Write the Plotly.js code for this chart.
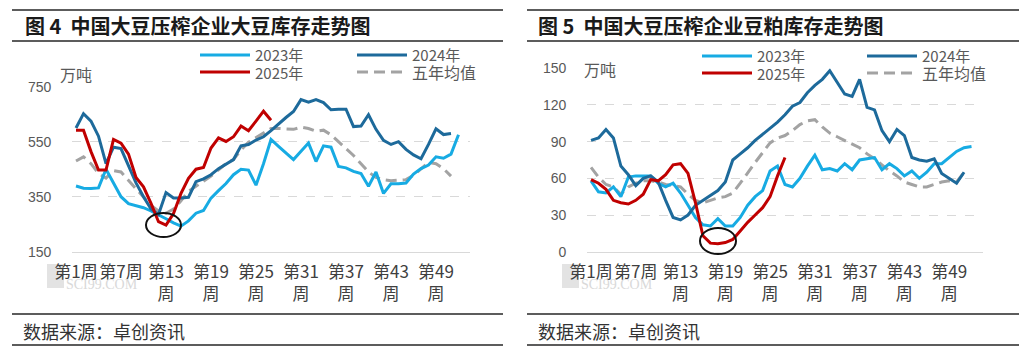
<!DOCTYPE html>
<html><head><meta charset="utf-8">
<script src="https://cdn.plot.ly/plotly-3.0.1.min.js"></script>
<style>html,body{margin:0;padding:0;background:#fff;}#chart{width:1024px;height:354px;}</style>
</head><body><div id="chart"></div>
<script>
// ---------- data ----------
const weeks = [1,2,3,4,5,6,7,8,9,10,11,12,13,14,15,16,17,18,19,20,21,22,23,24,25,26,27,28,29,30,31,32,33,34,35,36,37,38,39,40,41,42,43,44,45,46,47,48,49,50,51,52,53];
const tickWeeks = [1,7,13,19,25,31,37,43,49];
const tickLabels = ['第1周','第7周','第13<br>周','第19<br>周','第25<br>周','第31<br>周','第37<br>周','第43<br>周','第49<br>周'];
const seriesNames = ['2023年','2024年','2025年','五年均值'];

// 图4 大豆库存 (万吨)
const soy2023 = [389,381,380,382,450,400,350,325,318,310,298,285,270,255,243,262,290,300,345,372,398,430,450,447,392,470,558,533,508,485,515,545,478,535,530,460,455,442,434,388,440,362,397,397,400,432,452,465,495,490,505,575];
const soy2024 = [600,652,625,570,470,530,525,460,400,350,305,285,365,345,345,348,405,415,430,452,470,485,535,540,556,568,590,615,638,660,703,694,703,692,666,668,668,605,607,648,595,555,540,550,522,502,488,540,597,576,580];
const soy2025 = [592,592,514,447,447,558,545,505,420,386,326,259,247,289,362,417,450,456,527,564,551,568,607,590,625,661,628];
const soy5yr  = [480,495,470,435,418,445,440,410,380,350,318,298,290,305,335,370,388,405,425,448,470,485,520,548,565,580,598,598,596,595,603,598,588,592,575,550,528,500,470,440,420,412,408,410,412,428,450,475,470,452,425];
const soyTicks = [150,350,550,750];

// 图5 豆粕库存 (万吨)
const meal2023 = [58,49,48,53,45,61,62,62,62,56,53,56,48,38,28,22,21,27,21,21,28,38,45,50,66,70,55,53,60,70,79,67,68,66,72,67,75,76,77,67,72,68,62,66,60,65,72,72,77,82,85,86];
const meal2024 = [91,93,100,93,70,63,54,60,62,57,42,28,26,30,38,42,46,50,57,75,80,85,91,96,101,106,112,119,122,130,136,141,148,138,129,127,141,118,116,99,90,100,95,77,75,74,76,64,60,56,65];
const meal2025 = [59,56,51,42,40,39,42,47,59,58,63,71,72,64,40,13,7,6.5,7.5,10,17,24,30,36,45,62,77];
const meal5yr  = [69,61,55,53,47,53,56,58,58,57,55,54,53,47,42,40,42,44,45,48,56,65,73,81,89,93,95,99,104,107,108,102,97,94,91,88,85,80,76,71,66,62,57,55,53,53,55,57,58,57,65];
const mealTicks = [0,30,60,90,120,150];

// ---------- styles ----------
const W = 1024, H = 354;
const px = v => v / W, py = v => 1 - v / H;
const colors = ['#17ABE3', '#1D6A9B', '#C00000', '#A3A3A3'];
const dashes = ['solid', 'solid', 'solid', '11px,6px'];
const CJK = '"Noto Sans CJK SC", "Liberation Sans", sans-serif';
const NUM = '"Liberation Sans", Arial, sans-serif';

function mk(vals, i, xa, ya) {
  return {
    x: weeks.slice(0, vals.length), y: vals, name: seriesNames[i],
    type: 'scatter', mode: 'lines', xaxis: xa, yaxis: ya, showlegend: false,
    line: {color: colors[i], width: 3, dash: dashes[i]}
  };
}
const data = [
  mk(soy5yr, 3, 'x', 'y'), mk(soy2023, 0, 'x', 'y'), mk(soy2024, 1, 'x', 'y'), mk(soy2025, 2, 'x', 'y'),
  mk(meal5yr, 3, 'x2', 'y2'), mk(meal2023, 0, 'x2', 'y2'), mk(meal2024, 1, 'x2', 'y2'), mk(meal2025, 2, 'x2', 'y2')
];

function xAxis(d0, d1, anchor) {
  return {domain: [px(d0), px(d1)], range: [0.5, 53.5], anchor: anchor,
    tickmode: 'array', tickvals: tickWeeks, ticktext: tickLabels, tickangle: 0,
    showgrid: false, zeroline: false, showline: true, linecolor: '#d9d9d9', linewidth: 1,
    ticks: '', ticklabelstandoff: 5, tickfont: {family: CJK, size: 17, color: '#404040'}, fixedrange: true};
}
function yAxis(top, bottom, range, ticks, anchor) {
  return {domain: [py(bottom), py(top)], range: range, anchor: anchor,
    tickmode: 'array', tickvals: ticks, showgrid: true, gridcolor: '#d9d9d9', griddash: 'dash', gridwidth: 1,
    zeroline: false, showline: false, ticks: '', ticklabelstandoff: 20,
    tickfont: {family: NUM, size: 14, color: '#595959'}, fixedrange: true};
}

const shapes = [], annotations = [];
function hline(x0, x1, y, color, width, dash) {
  shapes.push({type: 'line', xref: 'paper', yref: 'paper', x0: px(x0), x1: px(x1), y0: py(y), y1: py(y),
    line: {color: color, width: width, dash: dash || 'solid'}});
}
function text(t, x, y, size, color, family, anchor, weight) {
  annotations.push({text: t, xref: 'paper', yref: 'paper', x: px(x), y: py(y), xanchor: anchor || 'left', yanchor: 'middle',
    showarrow: false, borderpad: 0, font: {family: family || CJK, size: size, color: color, weight: weight || 'normal'}});
}

// panel frames
[[12, 503], [527, 1019]].forEach(([a, b]) => {
  hline(a, b, 10, '#262626', 1.6); hline(a, b, 41, '#262626', 1.6);
  hline(a, b, 314, '#262626', 1.6); hline(a, b, 345, '#262626', 1.6);
});
text('图 4  中国大豆压榨企业大豆库存走势图', 24, 26, 20, '#1a1a1a', CJK, 'left', 'bold');
text('图 5  中国大豆压榨企业豆粕库存走势图', 537, 26, 20, '#1a1a1a', CJK, 'left', 'bold');
text('数据来源：卓创资讯', 22, 331, 18, '#333333');
text('数据来源：卓创资讯', 537, 331, 18, '#333333');
text('万吨', 59, 74, 16, '#595959');
text('万吨', 583, 69, 16, '#595959');

// legends
function legend(xa, xb, y1, y2) {
  const rows = [[0, xa, y1], [1, xb, y1], [2, xa, y2], [3, xb, y2]];
  rows.forEach(([i, x, y]) => {
    hline(x, x + 50, y, colors[i], 3, i === 3 ? '11px,6px' : 'solid');
    text(seriesNames[i], x + 54, y, i === 3 ? 16 : 15, '#595959', CJK);
  });
}
legend(200, 357, 55, 72);
legend(702, 867, 56, 73);

// watermark
[[47, 65], [562, 580]].forEach(([a, b]) => {
  shapes.push({type: 'rect', xref: 'paper', yref: 'paper', x0: px(a), x1: px(a + 17), y0: py(288), y1: py(264),
    fillcolor: '#e3e3e3', line: {width: 0}, layer: 'below'});
  text('SCI99.COM', b, 284, 14, '#d9d9d9', '"Liberation Serif", serif');
});

// highlight ellipses around the 2025 lows
shapes.push({type: 'circle', xref: 'paper', yref: 'paper', x0: px(146), x1: px(181), y0: py(237), y1: py(213),
  line: {color: '#111', width: 2}});
shapes.push({type: 'circle', xref: 'paper', yref: 'paper', x0: px(700), x1: px(736), y0: py(254), y1: py(228),
  line: {color: '#111', width: 2}});

const layout = {
  width: W, height: H, margin: {l: 0, r: 0, t: 0, b: 0},
  paper_bgcolor: '#ffffff', plot_bgcolor: 'rgba(0,0,0,0)',
  xaxis: xAxis(72.25, 469.75, 'y'),
  yaxis: yAxis(86.7, 251.7, [150, 750], soyTicks, 'x'),
  xaxis2: xAxis(587.3, 982.7, 'y2'),
  yaxis2: yAxis(68.3, 251.7, [0, 150], mealTicks, 'x2'),
  shapes: shapes, annotations: annotations, showlegend: false
};
Plotly.newPlot('chart', data, layout, {displayModeBar: false, staticPlot: true});
</script></body></html>
